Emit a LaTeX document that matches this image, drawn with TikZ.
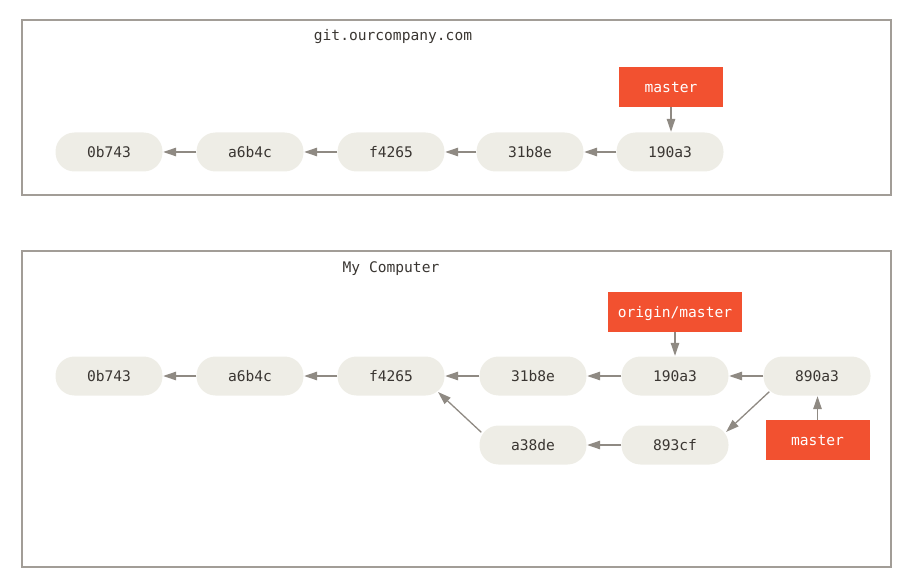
\documentclass[tikz,border=0pt]{standalone}
\usepackage{fontspec}
\setmonofont{DejaVu Sans Mono}
\usetikzlibrary{arrows.meta,calc}
\definecolor{commitfill}{HTML}{EEEDE6}
\definecolor{refred}{HTML}{F25130}
\definecolor{arrowgray}{HTML}{8F8A83}
\definecolor{framegray}{HTML}{A29D97}
\definecolor{txt}{HTML}{3A3632}
\tikzset{
  commit/.style={fill=commitfill, rounded corners=19pt, minimum width=107pt, minimum height=39pt, inner sep=0pt, text height=10.8pt, text depth=0pt, text=txt, font=\ttfamily\fontsize{14.6}{17}\selectfont},
  ref/.style={fill=refred, minimum height=40pt, inner sep=0pt, text height=11pt, text depth=0pt, text=white, font=\ttfamily\fontsize{14.6}{17}\selectfont},
  frame/.style={draw=framegray, line width=1.4pt},
  title/.style={text=txt, font=\ttfamily\fontsize{14.6}{17}\selectfont, inner sep=0pt, text height=10.8pt, text depth=0pt},
  link/.style={draw=arrowgray, line width=1.3pt, -{Triangle[length=13pt,width=8.5pt]}, shorten >=0.5pt}
}
\begin{document}
\begin{tikzpicture}[x=1pt,y=-1pt]
\useasboundingbox (0,0) rectangle (913,588);
% frames
\draw[frame] (22,20) rectangle (891,195);
\draw[frame] (22,251) rectangle (891,567);
\node[title] (tserver) at (393,35) {git.ourcompany.com};
\node[title] (tlocal) at (391,267) {My Computer};
% server
\node[commit] (sa) at (109,152) {0b743};
\node[commit] (sb) at (250,152) {a6b4c};
\node[commit] (sc) at (391,152) {f4265};
\node[commit] (sd) at (530,152) {31b8e};
\node[commit] (se) at (670,152) {190a3};
\node[ref, minimum width=104pt] (smaster) at (671,87) {master};
\draw[link] (sb.west) -- (sa.east);
\draw[link] (sc.west) -- (sb.east);
\draw[link] (sd.west) -- (sc.east);
\draw[link] (se.west) -- (sd.east);
\draw[link] (smaster.south) -- (smaster.south |- se.north);
% local
\node[commit] (la) at (109,376) {0b743};
\node[commit] (lb) at (250,376) {a6b4c};
\node[commit] (lc) at (391,376) {f4265};
\node[commit] (ld) at (533,376) {31b8e};
\node[commit] (le) at (675,376) {190a3};
\node[commit] (lf) at (817,376) {890a3};
\node[commit] (lg) at (533,445) {a38de};
\node[commit] (lh) at (675,445) {893cf};
\node[ref, minimum width=134pt] (lorigin) at (675,312) {origin/master};
\node[ref, minimum width=104pt] (lmaster) at (817.5,440) {master};
\draw[link] (lb.west) -- (la.east);
\draw[link] (lc.west) -- (lb.east);
\draw[link] (ld.west) -- (lc.east);
\draw[link] (le.west) -- (ld.east);
\draw[link] (lf.west) -- (le.east);
\draw[link] (lh.west) -- (lg.east);
\draw[link] ($(lf.south west)+(6,-4)$) -- ($(lh.north east)+(-3,7)$);
\draw[link] ($(lg.north west)+(2,7)$) -- ($(lc.south east)+(-7,-4)$);
\draw[link] (lorigin.south) -- (lorigin.south |- le.north);
\draw[link] (lmaster.north) -- (lmaster.north |- lf.south);
\end{tikzpicture}
\end{document}
